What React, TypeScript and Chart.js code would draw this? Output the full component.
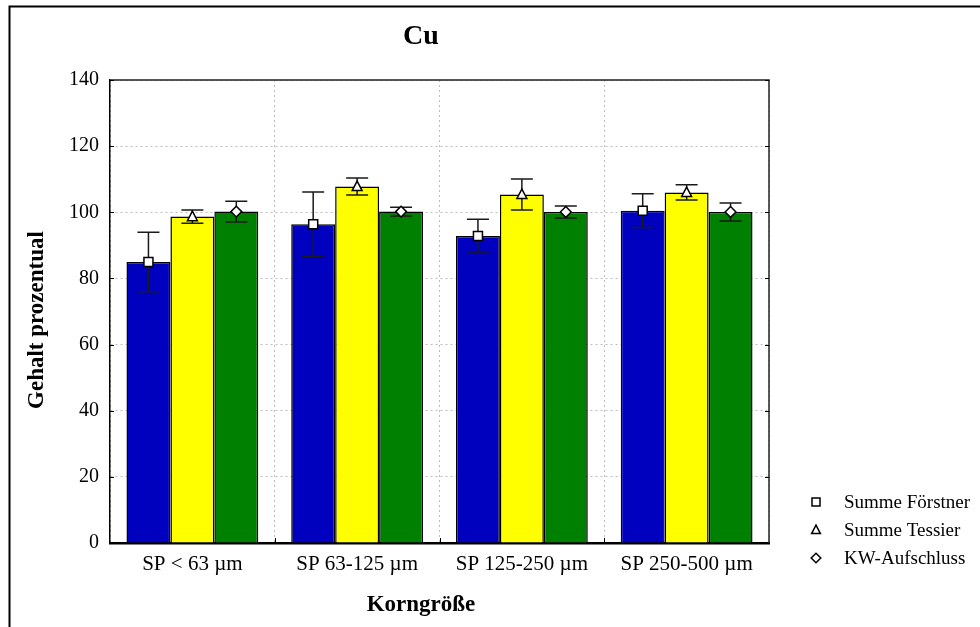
import React, { useEffect, useRef } from "react";
import { Chart, registerables } from "chart.js";

Chart.register(...registerables);

const categories = ["SP < 63 µm", "SP 63-125 µm", "SP 125-250 µm", "SP 250-500 µm"];
const seriesNames = ["Summe Förstner", "Summe Tessier", "KW-Aufschluss"];
const foerstner = [85.0, 96.4, 92.8, 100.5];
const foerstnerErr = [9.0, 9.7, 5.1, 5.1];
const tessier = [98.7, 107.8, 105.4, 106.0];
const tessierErr = [2.0, 2.6, 4.7, 2.3];
const kw = [100.2, 100.2, 100.1, 100.1];
const kwErr = [3.1, 1.3, 1.8, 2.7];
const yTicks = [0, 20, 40, 60, 80, 100, 120, 140];
const title = "Cu";
const xTitle = "Korngröße";
const yTitle = "Gehalt prozentual";

const colors = ["#0000BF", "#FFFF00", "#008000"];
const markers = ["square", "triangle", "diamond"];
const errors = [foerstnerErr, tessierErr, kwErr];
const FONT = "'Liberation Serif', 'Times New Roman', serif";

function drawMarker(ctx: CanvasRenderingContext2D, kind: string, x: number, y: number, s: number) {
  ctx.save();
  ctx.fillStyle = "#ffffff";
  ctx.strokeStyle = "#000000";
  ctx.lineWidth = 1.5;
  ctx.beginPath();
  if (kind === "square") {
    ctx.rect(x - s / 2, y - s / 2, s, s);
  } else if (kind === "triangle") {
    ctx.moveTo(x, y - s * 0.6);
    ctx.lineTo(x + s * 0.55, y + s * 0.45);
    ctx.lineTo(x - s * 0.55, y + s * 0.45);
    ctx.closePath();
  } else {
    ctx.moveTo(x, y - s * 0.6);
    ctx.lineTo(x + s * 0.6, y);
    ctx.lineTo(x, y + s * 0.6);
    ctx.lineTo(x - s * 0.6, y);
    ctx.closePath();
  }
  ctx.fill();
  ctx.stroke();
  ctx.restore();
}

const decorPlugin = {
  id: "decor",
  afterDatasetsDraw(chart: any) {
    const ctx: CanvasRenderingContext2D = chart.ctx;
    const yScale = chart.scales.y;
    chart.data.datasets.forEach((ds: any, i: number) => {
      const meta = chart.getDatasetMeta(i);
      meta.data.forEach((bar: any, j: number) => {
        const v = ds.data[j];
        const e = errors[i][j];
        const x = bar.x;
        const yHi = yScale.getPixelForValue(v + e);
        const yLo = yScale.getPixelForValue(v - e);
        const yM = yScale.getPixelForValue(v);
        ctx.save();
        ctx.strokeStyle = "#1a1a1a";
        ctx.lineWidth = 1.5;
        ctx.beginPath();
        ctx.moveTo(x, yHi);
        ctx.lineTo(x, yLo);
        ctx.moveTo(x - 11, yHi);
        ctx.lineTo(x + 11, yHi);
        ctx.moveTo(x - 11, yLo);
        ctx.lineTo(x + 11, yLo);
        ctx.stroke();
        ctx.restore();
        drawMarker(ctx, markers[i], x, yM, 9);
      });
    });
  },
  afterDraw(chart: any) {
    const ctx: CanvasRenderingContext2D = chart.ctx;
    const a = chart.chartArea;
    const yScale = chart.scales.y;
    const xScale = chart.scales.x;
    ctx.save();
    // plot box top & right
    ctx.strokeStyle = "#222";
    ctx.lineWidth = 1.5;
    ctx.beginPath();
    ctx.moveTo(a.left, a.top);
    ctx.lineTo(a.right, a.top);
    ctx.lineTo(a.right, a.bottom);
    ctx.stroke();
    // inward tick marks
    ctx.strokeStyle = "#000";
    ctx.lineWidth = 1;
    ctx.beginPath();
    yTicks.forEach((v) => {
      const y = Math.round(yScale.getPixelForValue(v)) + 0.5;
      ctx.moveTo(a.left, y);
      ctx.lineTo(a.left + 4, y);
      ctx.moveTo(a.right, y);
      ctx.lineTo(a.right - 4, y);
    });
    for (let k = 1; k < categories.length; k++) {
      const x = Math.round((xScale.getPixelForValue(k - 1) + xScale.getPixelForValue(k)) / 2) + 0.5;
      ctx.moveTo(x, a.bottom);
      ctx.lineTo(x, a.bottom - 5);
    }
    ctx.stroke();
    // outer frame
    ctx.strokeStyle = "#000";
    ctx.lineWidth = 2;
    ctx.beginPath();
    ctx.moveTo(9.5, 640);
    ctx.lineTo(9.5, 6.5);
    ctx.lineTo(990, 6.5);
    ctx.stroke();
    // title
    ctx.fillStyle = "#000";
    ctx.textAlign = "center";
    ctx.textBaseline = "middle";
    ctx.font = `bold 28px ${FONT}`;
    ctx.fillText(title, 421, 37);
    // x axis title
    ctx.font = `bold 23px ${FONT}`;
    ctx.fillText(xTitle, 421, 605);
    // y axis title
    ctx.save();
    ctx.translate(37, 320);
    ctx.rotate(-Math.PI / 2);
    ctx.fillText(yTitle, 0, 0);
    ctx.restore();
    // legend
    ctx.textAlign = "left";
    ctx.font = `19px ${FONT}`;
    seriesNames.forEach((name, i) => {
      const y = 502 + i * 28;
      drawMarker(ctx, markers[i], 816, y, 8);
      ctx.fillStyle = "#000";
      ctx.fillText(name, 844, y + 1);
    });
    ctx.restore();
  },
};

export default function App() {
  const ref = useRef<HTMLCanvasElement | null>(null);
  useEffect(() => {
    if (!ref.current) return;
    const seriesData = [foerstner, tessier, kw];
    const chart = new Chart(ref.current, {
      type: "bar",
      data: {
        labels: categories,
        datasets: seriesNames.map((name, i) => ({
          label: name,
          data: seriesData[i],
          backgroundColor: colors[i],
          borderColor: "#000",
          borderWidth: 1.5,
          categoryPercentage: 0.8,
          barPercentage: 1.0,
        })),
      },
      options: {
        responsive: false,
        animation: false,
        devicePixelRatio: 1,
        layout: { padding: { left: 0, top: 80, right: 211, bottom: 0 } },
        plugins: { legend: { display: false }, title: { display: false }, tooltip: { enabled: false } },
        scales: {
          x: {
            grid: { display: true, offset: true, drawTicks: false, color: "#bdbdbd", lineWidth: 1 },
            border: { display: true, color: "#000", width: 2.5, dash: [2, 3] },
            ticks: { color: "#000", font: { family: FONT, size: 21 }, padding: 9, maxRotation: 0 },
            afterFit: (s: any) => { s.height = 84; },
          },
          y: {
            min: 0,
            max: 140,
            afterBuildTicks: (s: any) => { s.ticks = yTicks.map((v) => ({ value: v })); },
            grid: { display: true, drawTicks: false, color: "#bdbdbd", lineWidth: 1 },
            border: { display: true, color: "#000", width: 1.5, dash: [2, 3] },
            ticks: { color: "#000", font: { family: FONT, size: 20 }, padding: 11 },
            afterFit: (s: any) => { s.width = 110; },
          },
        },
      } as any,
      plugins: [decorPlugin],
    });
    return () => chart.destroy();
  }, []);
  return (
    <div style={{ position: "fixed", left: 0, top: 0, width: 980, height: 627, background: "#fff" }}>
      <canvas ref={ref} width={980} height={627} style={{ display: "block" }} />
    </div>
  );
}
